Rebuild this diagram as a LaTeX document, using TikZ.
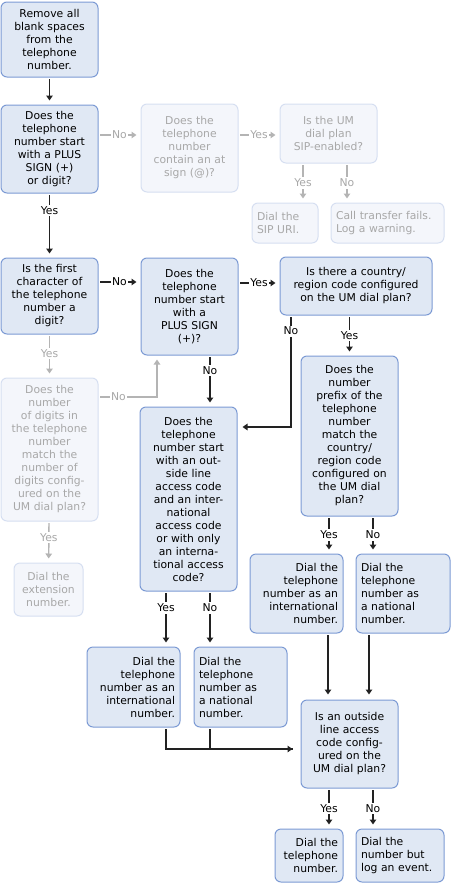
\documentclass[tikz,border=0pt]{standalone}
\usepackage{fontspec}
\setmainfont{DejaVu Sans}
\usetikzlibrary{positioning}
\usetikzlibrary{arrows.meta}
\usetikzlibrary{calc}

\definecolor{boxfill}{RGB}{224,232,244}
\definecolor{boxline}{RGB}{124,154,212}
\definecolor{fadefill}{RGB}{244,246,251}
\definecolor{fadeline}{RGB}{214,223,241}
\definecolor{fadetext}{RGB}{168,168,168}
\definecolor{fadelink}{RGB}{180,180,180}
\definecolor{linkcol}{RGB}{34,34,34}

\tikzset{
	box/.style={draw=boxline, fill=boxfill, line width=1pt, rounded corners=6pt, inner xsep=5pt, inner ysep=0pt, font=\fontsize{10.8}{13}\selectfont, align=center},
	faded/.style={box, draw=fadeline, fill=fadefill, text=fadetext},
	link/.style={draw=linkcol, line width=1.4pt, -{Triangle[length=5pt,width=6.5pt]}, shorten <=1.5pt, shorten >=4pt},
	flink/.style={link, draw=fadelink},
	lbl/.style={fill=white, inner sep=1.5pt, font=\fontsize{10.8}{13}\selectfont, text=black},
	flbl/.style={lbl, text=fadetext}
}

\begin{document}
\begin{tikzpicture}[x=1pt,y=-1pt]
		\useasboundingbox (0,0) rectangle (452,889);
		% Define the boxes
		\node[box, text width=87pt, minimum height=75pt] (strip) at (49.5,39.5) {Remove all\\blank spaces\\from the\\telephone\\number.};
		\node[box, text width=87pt, minimum height=88pt] (plus) at (49.5,149) {Does the\\telephone\\number start\\with a PLUS\\SIGN (+)\\or digit?};
		\node[faded, text width=87pt, minimum height=88pt] (atsign) at (189.5,148) {Does the\\telephone\\number\\contain an at\\sign (@)?};
		\node[faded, text width=87pt, minimum height=59pt] (sip) at (328.5,133.5) {Is the UM\\dial plan\\SIP-enabled?};
		\node[faded, align=left, text width=56pt, minimum height=40pt] (sipuri) at (285,223) {Dial the\\SIP URI.};
		\node[faded, align=left, text width=103pt, minimum height=40pt] (fail) at (387.5,223) {Call transfer fails.\\Log a warning.};
		\node[box, text width=87pt, minimum height=76pt] (first) at (49.5,296) {Is the first\\character of\\the telephone\\number a\\digit?};
		\node[box, text width=87pt, minimum height=97pt] (plusonly) at (189.5,306.5) {Does the\\telephone\\number start\\with a\\PLUS SIGN\\(+)?};
		\node[box, text width=142pt, minimum height=58pt] (region) at (356,286) {Is there a country/\\region code configured\\on the UM dial plan?};
		\node[faded, text width=87pt, minimum height=143pt] (digits) at (49.5,449.5) {Does the\\number\\of digits in\\the telephone\\number\\match the\\number of\\digits config-\\ured on the\\UM dial plan?};
		\node[faded, text width=59pt, minimum height=53pt] (ext) at (48.5,589.5) {Dial the\\extension\\number.};
		\node[box, text width=87pt, minimum height=160pt] (prefix) at (349.5,436) {Does the\\number\\prefix of the\\telephone\\number\\match the\\country/\\region code\\configured on\\the UM dial\\plan?};
		\node[box, text width=87pt, minimum height=184pt] (access) at (188.5,499) {Does the\\telephone\\number start\\with an out-\\side line\\access code\\and an inter-\\national\\access code\\or with only\\an interna-\\tional access\\code?};
		\node[box, align=right, text width=83pt, minimum height=79pt] (dialintl) at (296.5,593.5) {Dial the\\telephone\\number as an\\international\\number.};
		\node[box, align=left, text width=84pt, minimum height=79pt] (dialnat) at (403,593.5) {Dial the\\telephone\\number as\\a national\\number.};
		\node[box, align=right, text width=83pt, minimum height=80pt] (intl) at (133.5,687) {Dial the\\telephone\\number as an\\international\\number.};
		\node[box, align=left, text width=83pt, minimum height=80pt] (natl) at (240.5,687) {Dial the\\telephone\\number as\\a national\\number.};
		\node[box, text width=87pt, minimum height=88pt] (outside) at (349.5,744) {Is an outside\\line access\\code config-\\ured on the\\UM dial plan?};
		\node[box, align=right, text width=58pt, minimum height=53pt] (dial) at (309,855.5) {Dial the\\telephone\\number.};
		\node[box, align=left, text width=78pt, minimum height=53pt] (logevent) at (400,855.5) {Dial the\\number but\\log an event.};

		% Draw the lines
		\draw[link] (strip) -- (plus);
		\draw[link] (plus) -- node[lbl, pos=0.26] {Yes} (first);
		\draw[flink] ([yshift=14pt]plus.east) -- node[flbl] {No} ([yshift=13pt]atsign.west);
		\draw[flink] ([yshift=13pt]atsign.east) -- node[flbl] {Yes} ([yshift=-1.5pt]sip.west);
		\draw[flink] ([xshift=-25.5pt]sip.south) -- node[flbl] {Yes} ([xshift=18pt]sipuri.north);
		\draw[flink] ([xshift=18.5pt]sip.south) -- node[flbl] {No} ([xshift=-40.5pt]fail.north);
		\draw[link] ([yshift=14pt]first.east) -- node[lbl] {No} ([yshift=24.5pt]plusonly.west);
		\draw[link] ([yshift=23.5pt]plusonly.east) -- node[lbl] {Yes} ([yshift=3pt]region.west);
		\draw[link, shorten >=5pt] ([xshift=-65pt]region.south) |- node[lbl, pos=0.07] {No} ([yshift=72pt]access.east);
		\draw[link] ([xshift=-6.5pt]region.south) -- node[lbl] {Yes} (prefix.north);
		\draw[flink] (first) -- node[flbl, pos=0.45] {Yes} (digits);
		\draw[flink] ([yshift=52.5pt]digits.east) -| node[flbl, pos=0.17] {No} ([xshift=-32.5pt]plusonly.south);
		\draw[flink] (digits) -- node[flbl, pos=0.4] {Yes} (ext);
		\draw[link] ([xshift=20.5pt]plusonly.south) -- node[lbl, pos=0.3] {No} ([xshift=21.5pt]access.north);
		\draw[link] ([xshift=-20.5pt]prefix.south) -- node[lbl] {Yes} ([xshift=32.5pt]dialintl.north);
		\draw[link] ([xshift=23.5pt]prefix.south) -- node[lbl] {No} ([xshift=-30pt]dialnat.north);
		\draw[link] ([xshift=-22.5pt]access.south) -- node[lbl, pos=0.3] {Yes} ([xshift=32.5pt]intl.north);
		\draw[link] ([xshift=21.5pt]access.south) -- node[lbl, pos=0.3] {No} ([xshift=-30.5pt]natl.north);
		\draw[link, shorten >=5pt] ([xshift=31.5pt]dialintl.south) -- ([xshift=-21.5pt]outside.north);
		\draw[link, shorten >=5pt] ([xshift=-34pt]dialnat.south) -- ([xshift=19.5pt]outside.north);
		\draw[link, -, shorten >=8pt] ([xshift=-30.5pt]natl.south) |- ([yshift=-5pt]outside.west);
		\draw[link, shorten >=8pt] ([xshift=32.5pt]intl.south) |- ([yshift=-5pt]outside.west);
		\draw[link] ([xshift=-20.5pt]outside.south) -- node[lbl] {Yes} ([xshift=20pt]dial.north);
		\draw[link] ([xshift=23.5pt]outside.south) -- node[lbl] {No} ([xshift=-27pt]logevent.north);
\end{tikzpicture}
\end{document}
